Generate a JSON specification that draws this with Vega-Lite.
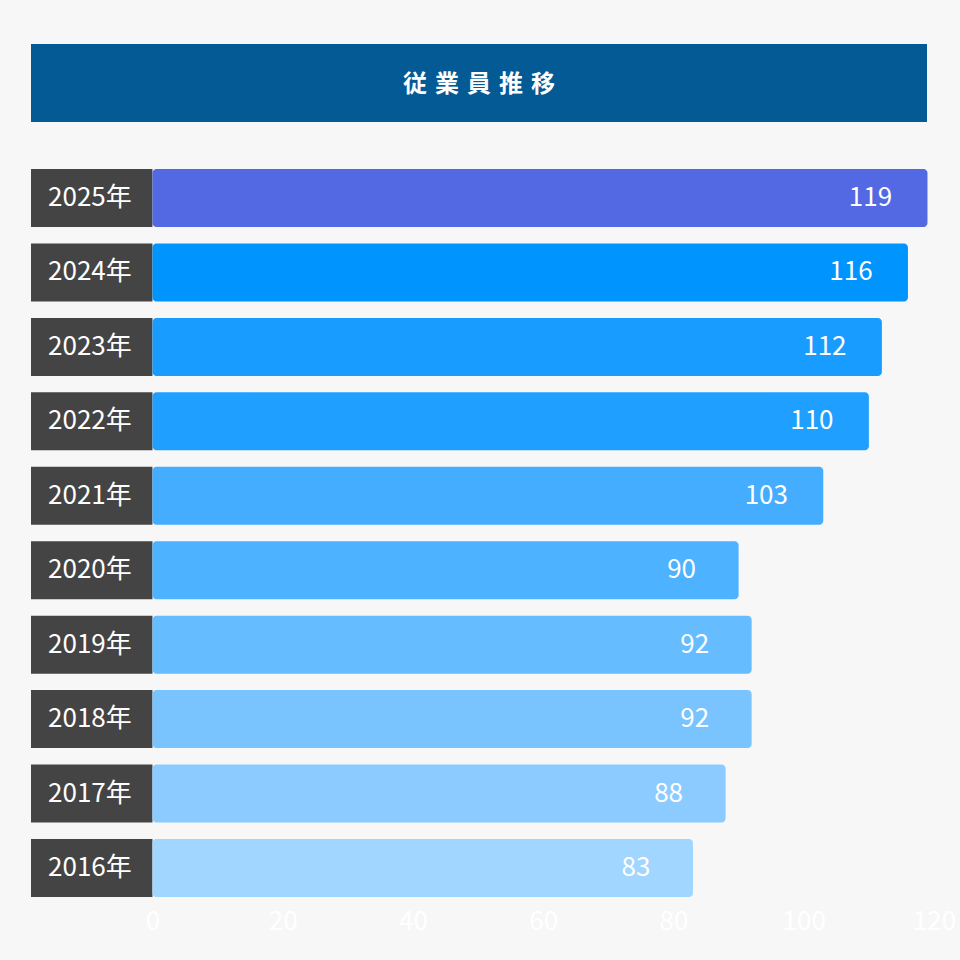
{
  "$schema": "https://vega.github.io/schema/vega-lite/v6.json",
  "background": "#f7f7f7",
  "padding": {"left": 31, "top": 44, "right": 30, "bottom": 40},
  "config": {
    "view": {"stroke": null},
    "font": "Noto Sans CJK JP",
    "concat": {"spacing": 47}
  },
  "vconcat": [
    {
      "width": 896,
      "height": 78,
      "data": {"values": [{"title": "従\u2004業\u2004員\u2004推\u2004移"}]},
      "layer": [
        {"mark": {"type": "rect", "color": "#045a94"}, "encoding": {}},
        {
          "mark": {"type": "text", "color": "#ffffff", "fontSize": 24, "fontWeight": "bold", "baseline": "middle", "dy": 2},
          "encoding": {"text": {"field": "title"}}
        }
      ]
    },
    {
      "width": 903,
      "height": 728,
      "data": {
        "values": [
          {"year": "2025年", "count": 119},
          {"year": "2024年", "count": 116},
          {"year": "2023年", "count": 112},
          {"year": "2022年", "count": 110},
          {"year": "2021年", "count": 103},
          {"year": "2020年", "count": 90},
          {"year": "2019年", "count": 92},
          {"year": "2018年", "count": 92},
          {"year": "2017年", "count": 88},
          {"year": "2016年", "count": 83}
        ]
      },
      "encoding": {
        "y": {
          "field": "year",
          "type": "ordinal",
          "sort": "descending",
          "axis": null,
          "scale": {"paddingInner": 0.22, "paddingOuter": 0}
        }
      },
      "layer": [
        {
          "mark": {"type": "bar", "color": "#444444"},
          "encoding": {
            "x": {"datum": -18.65, "type": "quantitative"},
            "x2": {"datum": 0}
          }
        },
        {
          "mark": {"type": "bar", "cornerRadiusEnd": 4},
          "encoding": {
            "x": {
              "field": "count",
              "type": "quantitative",
              "scale": {"domain": [-18.65, 120], "nice": false, "zero": false},
              "axis": {
                "title": null,
                "values": [0, 20, 40, 60, 80, 100, 120],
                "labelColor": "#ffffff",
                "labelFontSize": 26,
                "labelFlush": false,
                "labelPadding": 11,
                "ticks": false,
                "domain": false,
                "grid": false
              }
            },
            "x2": {"datum": 0},
            "color": {
              "field": "year",
              "type": "nominal",
              "legend": null,
              "scale": {
                "domain": ["2025年", "2024年", "2023年", "2022年", "2021年", "2020年", "2019年", "2018年", "2017年", "2016年"],
                "range": ["#5368e3", "#0094ff", "#199cff", "#1f9fff", "#44adff", "#4db2ff", "#65bcff", "#79c4ff", "#8bcbff", "#a0d6ff"]
              }
            }
          }
        },
        {
          "mark": {"type": "text", "color": "#ffffff", "fontSize": 26, "align": "center", "baseline": "middle"},
          "encoding": {
            "x": {"datum": -9.6, "type": "quantitative"},
            "text": {"field": "year"}
          }
        },
        {
          "mark": {"type": "text", "color": "#ffffff", "fontSize": 26, "fontWeight": "normal", "align": "center", "baseline": "middle", "dx": -57},
          "encoding": {
            "x": {"field": "count", "type": "quantitative"},
            "text": {"field": "count", "type": "quantitative"}
          }
        }
      ]
    }
  ]
}
